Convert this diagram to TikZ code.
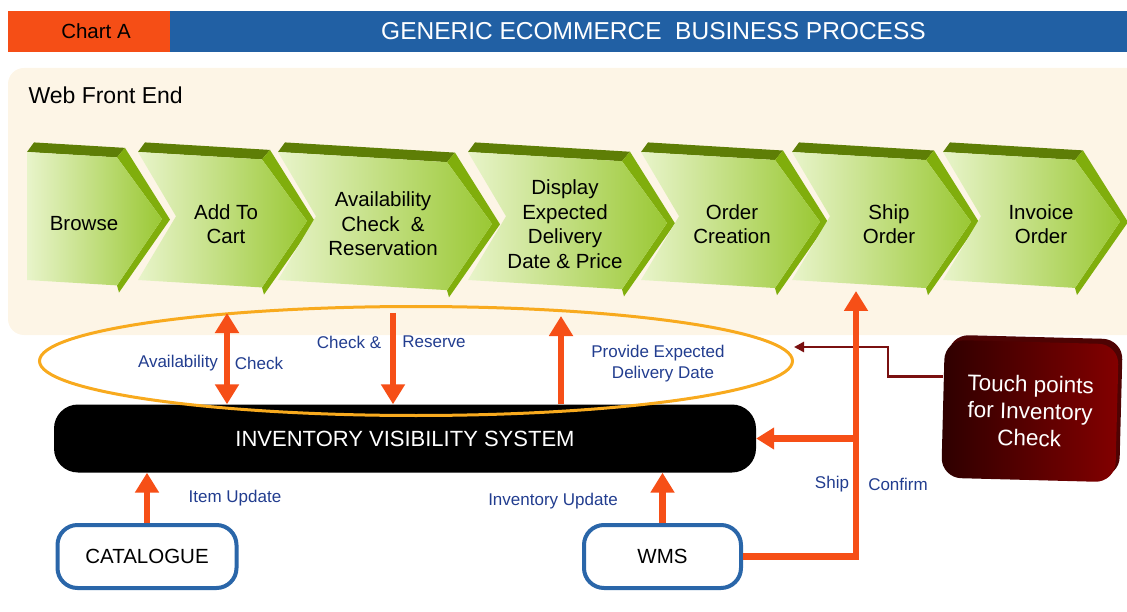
\documentclass[tikz,border=0pt]{standalone}
\usepackage{fontspec}
\setmainfont{Liberation Sans}
\usetikzlibrary{shapes.geometric,arrows.meta}

\definecolor{chartorange}{HTML}{F54E16}
\definecolor{titleblue}{HTML}{2160A4}
\definecolor{panelcream}{HTML}{FDF5E6}
\definecolor{leafpale}{HTML}{E8F4CA}
\definecolor{leafgreen}{HTML}{9AC834}
\definecolor{bevelgreen}{HTML}{80AE0C}
\definecolor{beveldark}{HTML}{5E7E06}
\definecolor{ringgold}{HTML}{F8AA1E}
\definecolor{flowred}{HTML}{F64F17}
\definecolor{hintred}{HTML}{7A1010}
\definecolor{hintdark}{HTML}{2E0000}
\definecolor{hintlight}{HTML}{830000}
\definecolor{hintrim}{HTML}{4E0303}
\definecolor{labelblue}{HTML}{223D8F}
\definecolor{boxblue}{HTML}{2A66A9}

\tikzstyle{stage} = [align=center, font=\fontsize{20.5}{24.5}\selectfont]
\tikzstyle{bar} = [fill=black, rounded corners=24pt, minimum width=702pt, minimum height=68pt, text=white, font=\fontsize{22}{26}\selectfont]
\tikzstyle{source} = [draw=boxblue, line width=4pt, fill=white, rounded corners=20pt, minimum height=63pt, font=\fontsize{20.5}{24}\selectfont]
\tikzstyle{note} = [text=labelblue, align=center, font=\fontsize{17}{21}\selectfont]
\tikzstyle{hint} = [rounded corners=20pt, minimum width=174pt, minimum height=138pt, text=white, align=center, font=\fontsize{22.5}{27}\selectfont]
\tikzstyle{line} = [draw=flowred, line width=6.5pt, -{Triangle[length=20pt,width=23pt]}]
\tikzstyle{hintline} = [draw=hintred, line width=2.5pt, -{Triangle[length=10pt,width=10pt]}]

% one step of the process: name, left edge, face width, notch depth, text x, text
\newcommand{\stagearrow}[6]{%
  \begin{scope}[shift={(#2,0)}, yslant=-0.06]
    \fill[beveldark] (0,152) -- (7,142) -- (#3+8,142) -- (#3,152) -- cycle;
    \fill[bevelgreen] (#3,152) -- (#3+8,142) -- (#3+53,211) -- (#3+2,287) -- (#3,280) -- (#3+45,211) -- cycle;
    \shade[left color=leafpale, right color=leafgreen] (0,152) -- (#3,152) -- (#3+45,211) -- (#3,280) -- (0,280) -- (#4,214) -- cycle;
  \end{scope}
  \node[stage] (#1) at (#5,224) {#6};
}

\begin{document}
\begin{tikzpicture}[x=1pt, y=-1pt]
  \useasboundingbox (0,0) rectangle (1127,612);

  % header
  \node [fill=chartorange, minimum width=162pt, minimum height=41pt, inner sep=0, font=\fontsize{20.5}{24}\selectfont] (chart) at (89,31.5) {\hspace*{14pt}Chart A};
  \node [fill=titleblue, minimum width=957pt, minimum height=41pt, inner sep=0, text=white, font=\fontsize{24.5}{27}\selectfont] (title) at (648.5,31.5) {\hspace*{10pt}GENERIC ECOMMERCE\ \ BUSINESS PROCESS};

  % web front end
  \fill [panelcream, rounded corners=16pt] (8,68) rectangle (1160,335);
  \node [anchor=west, font=\fontsize{23}{26}\selectfont] (web) at (25,95) {Web Front End};

  \stagearrow{browse}{27}{90}{0}{84}{Browse}
  \stagearrow{cart}{138}{124}{38}{226}{Add To\\Cart}
  \stagearrow{avail}{278}{169}{38}{383}{Availability\\Check\ \ \&\\Reservation}
  \stagearrow{display}{468}{154}{38}{565}{Display\\Expected\\Delivery\\Date \& Price}
  \stagearrow{order}{641}{134}{38}{732}{Order\\Creation}
  \stagearrow{ship}{792}{134}{38}{889}{Ship\\Order}
  \stagearrow{invoice}{943}{132}{38}{1041}{Invoice\\Order}

  % systems
  \node [bar] (ivs) at (405,438.5) {INVENTORY VISIBILITY SYSTEM};
  \node [source, minimum width=179pt] (catalogue) at (147,556.5) {CATALOGUE};
  \node [source, minimum width=157pt] (wms) at (662.5,556.5) {WMS};

  \node [draw=ringgold, line width=3pt, ellipse, minimum width=753pt, minimum height=109pt, inner sep=0] (zone) at (416,361) {};

  \node [hint, fill=hintrim, rotate=-1.5] (touchrim) at (1034,406) {};
  \node [hint, left color=hintdark, right color=hintlight, rotate=-1.5] (touch) at (1030,411) {Touch points\\for Inventory\\Check};

  % labels
  \node [note] (availlbl) at (178,363) {Availability};
  \node [note] (checklbl) at (259,363) {Check};
  \node [note] (checkreslbl) at (349,342) {Check \&};
  \node [note] (reservelbl) at (434,342) {Reserve};
  \node [note] (providelbl) at (658,364) {Provide Expected\\\hspace*{10pt}Delivery Date};
  \node [note] (itemlbl) at (235,498) {Item Update};
  \node [note] (invlbl) at (553,501) {Inventory Update};
  \node [note] (shiplbl) at (832,484) {Ship};
  \node [note] (confirmlbl) at (898,484) {Confirm};

  \coordinate (cartOut) at (227,313);
  \coordinate (reserveOut) at (393,313);
  \coordinate (dateIn) at (561,316);
  \coordinate (shipIn) at (856,291);

  \path [hintline] ([yshift=32pt]touch.west) -- ++(-55,0) |- ([yshift=14pt]zone.east);

  \path [line, {Triangle[length=20pt,width=23pt]}-{Triangle[length=20pt,width=23pt]}] (cartOut) -- (cartOut |- ivs.north);
  \path [line] (reserveOut) -- (reserveOut |- ivs.north);
  \path [line] (dateIn |- ivs.north) -- (dateIn);
  \path [line] (catalogue.north) -- (catalogue.north |- ivs.south);
  \path [line] (wms.north) -- (wms.north |- ivs.south);
  \path [line] (wms.east) -| (shipIn);
  \path [line, -{Triangle[length=18pt,width=21pt]}] (ivs.east -| shipIn) -- (ivs.east);
\end{tikzpicture}
\end{document}
